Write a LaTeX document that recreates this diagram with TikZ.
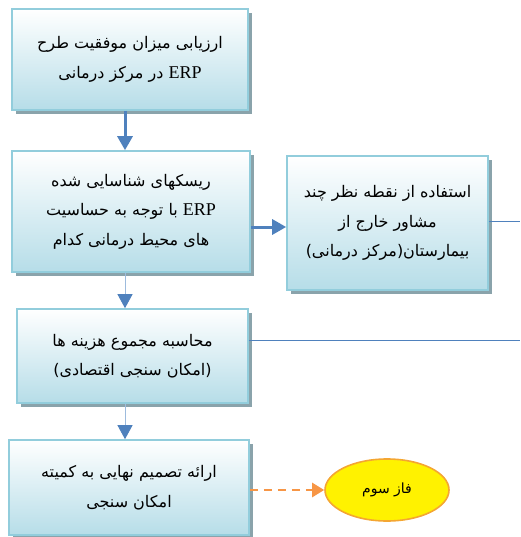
\documentclass[tikz,border=0pt]{standalone}
\usepackage{fontspec}
\setmainfont{Liberation Serif}
\newfontfamily\arabicfont[Script=Arabic]{DejaVu Sans}
\TeXXeTstate=1
\usetikzlibrary{positioning,shapes,arrows.meta,shadows}
\definecolor{boxline}{HTML}{92CDDC}
\definecolor{boxfill}{HTML}{B6DDE8}
\definecolor{boxshadow}{HTML}{8AA3AB}
\definecolor{flowblue}{HTML}{4F81BD}
\definecolor{thinblue}{HTML}{9DBBDD}
\definecolor{phaseorange}{HTML}{F79646}
\definecolor{phaseline}{HTML}{F4A632}
\newcommand{\fatext}[1]{{\arabicfont\beginR #1\endR}}
\newcommand{\erp}{\beginL{\rmfamily\fontsize{18}{20}\selectfont ERP}\endL{}}

\begin{document}
\begin{tikzpicture}[x=1pt,y=-1pt,
	stepbox/.style={draw=boxline,line width=1.6pt,top color=white,bottom color=boxfill,
		drop shadow={shadow xshift=4pt,shadow yshift=-4pt,fill=boxshadow,opacity=1},
		align=center,inner sep=0pt,font=\fontsize{16}{29.5}\selectfont},
	thickflow/.style={-{Triangle[width=15pt,length=14pt]},flowblue,line width=3pt},
	thinflow/.style={-{Triangle[width=15pt,length=14pt,color=flowblue]},thinblue,line width=0.9pt}]
\useasboundingbox (0,0) rectangle (520,537);
\node [stepbox,minimum width=236pt,minimum height=101pt] (eval) at (130,59.5)
	{\fatext{ارزیابی میزان موفقیت طرح}\\ \fatext{\erp{} در مرکز درمانی}};
\node [stepbox,minimum width=238pt,minimum height=121pt] (risk) at (131,211.5)
	{\fatext{ریسکهای شناسایی شده}\\ \fatext{\erp{} با توجه به حساسیت}\\ \fatext{های محیط درمانی کدام}};
\node [stepbox,minimum width=201pt,minimum height=134pt] (advice) at (387.5,223)
	{\fatext{استفاده از نقطه نظر چند}\\ \fatext{مشاور خارج از}\\ \fatext{بیمارستان(مرکز درمانی)}};
\node [stepbox,minimum width=231pt,minimum height=94pt] (cost) at (132.5,356)
	{\fatext{محاسبه مجموع هزینه ها}\\ \fatext{(امکان سنجی اقتصادی)}};
\node [stepbox,minimum width=240pt,minimum height=95pt] (decide) at (129,487.5)
	{\fatext{ارائه تصمیم نهایی به کمیته}\\ \fatext{امکان سنجی}};
\node [ellipse,draw=phaseline,line width=1.6pt,fill=yellow,minimum width=124pt,minimum height=62pt,
	font=\fontsize{14}{16}\selectfont] (phase) at (387,490) {\fatext{فاز سوم}};
\coordinate (outa) at (520,221);
\coordinate (outb) at (520,340);
% connectors
\draw [thickflow] ([xshift=-5pt]eval.south) -- ([xshift=-5pt]eval.south |- risk.north);
\draw [thickflow] ([yshift=-15.5pt]risk.east) -- ([yshift=-15.5pt]risk.east -| advice.west);
\draw [thinflow] ([xshift=-6pt]risk.south) -- ([xshift=-6pt]risk.south |- cost.north);
\draw [thinflow] ([xshift=-7.5pt]cost.south) -- ([xshift=-7.5pt]cost.south |- decide.north);
\draw [flowblue,line width=1pt] ([yshift=2pt]advice.east) -- (outa);
\draw [flowblue,line width=1pt] ([yshift=16pt]cost.east) -- (outb);
\draw [phaseorange,line width=2.5pt,dash pattern=on 8pt off 6pt,-{Triangle[width=14pt,length=12pt]}]
	(decide.east |- phase.west) -- (phase.west);
\end{tikzpicture}
\end{document}
